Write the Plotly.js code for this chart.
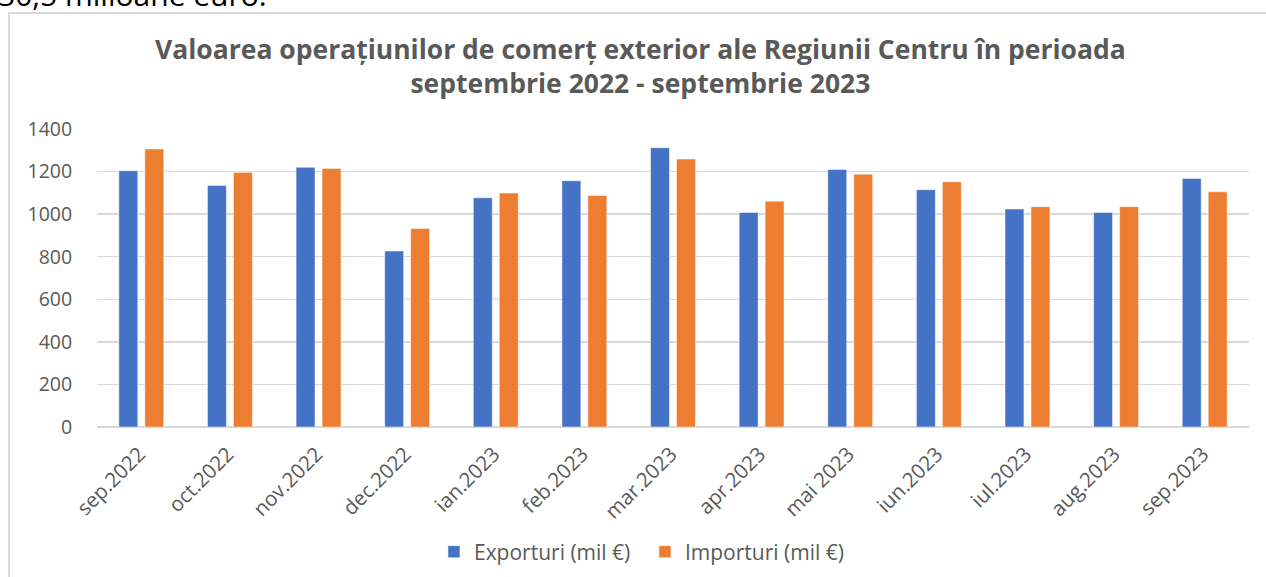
<!DOCTYPE html>
<html>
<head>
<meta charset="utf-8">
<script src="https://cdn.plot.ly/plotly-3.0.1.min.js"></script>
<style>
  html, body { margin: 0; padding: 0; background: #ffffff; overflow: hidden; }
  #wrap { position: relative; width: 1266px; height: 577px; overflow: hidden; }
  #doctext { position: absolute; left: -2px; top: -20px; font-family: "Open Sans", sans-serif; font-size: 30px; line-height: 30px; color: #000; white-space: nowrap; }
  #frame { position: absolute; left: 8px; top: 12px; width: 1300px; height: 700px; border: 2px solid #d9d9d9; box-sizing: border-box; }
  #chart { position: absolute; left: 0; top: 0; width: 1266px; height: 577px; }
</style>
</head>
<body>
<div id="wrap">
  <div id="doctext">30,5 milioane euro.</div>
  <div id="frame"></div>
  <div id="chart"></div>
</div>
<script>
const categories = ["sep.2022", "oct.2022", "nov.2022", "dec.2022", "ian.2023", "feb.2023", "mar.2023", "apr.2023", "mai 2023", "iun.2023", "iul.2023", "aug.2023", "sep.2023"];
const exporturi = [1204, 1135, 1220, 827, 1077, 1157, 1312, 1008, 1210, 1115, 1024, 1008, 1168];
const importuri = [1306, 1196, 1215, 933, 1099, 1088, 1259, 1061, 1188, 1152, 1035, 1035, 1105];
const seriesNames = ["Exporturi (mil €)", "Importuri (mil €)"];
const yTicks = [0, 200, 400, 600, 800, 1000, 1200, 1400];
const titleText = "Valoarea operațiunilor de comerț exterior ale Regiunii Centru în perioada<br>septembrie 2022 - septembrie 2023";

const grey = "#595959";
const font = "Open Sans, Liberation Sans, sans-serif";

const traces = [
  { type: "bar", name: seriesNames[0], x: categories, y: exporturi,
    marker: { color: "#4472C4", line: { color: "rgba(255,255,255,0.5)", width: 1 } }, hoverinfo: "x+y" },
  { type: "bar", name: seriesNames[1], x: categories, y: importuri,
    marker: { color: "#ED7D31", line: { color: "rgba(255,255,255,0.5)", width: 1 } }, hoverinfo: "x+y" }
];

const layout = {
  width: 1266, height: 577, autosize: false,
  paper_bgcolor: "rgba(0,0,0,0)", plot_bgcolor: "rgba(0,0,0,0)",
  margin: { l: 97, r: 17, t: 129, b: 150, pad: 0 },
  font: { family: font, color: grey, size: 18 },
  annotations: [{
    text: "<b>" + titleText + "</b>",
    xref: "paper", yref: "paper", x: 0.4714, y: 1.2114,
    xanchor: "center", yanchor: "middle", showarrow: false,
    font: { family: font, size: 26.5, color: grey }
  }],
  barmode: "group", bargap: 0.414, bargroupgap: 0.27,
  xaxis: {
    type: "category", tickangle: -45, showgrid: false, zeroline: false, showline: false,
    ticks: "outside", ticklen: 6, tickcolor: "rgba(0,0,0,0)", ticklabelshift: -2,
    tickfont: { family: font, size: 20.5, color: grey },
    automargin: false
  },
  yaxis: {
    range: [0, 1400], tickvals: yTicks, ticktext: yTicks.map(String),
    showgrid: true, gridcolor: "#d9d9d9", gridwidth: 1.5,
    zeroline: true, zerolinecolor: "#d9d9d9", zerolinewidth: 1.5,
    showline: false, ticks: "outside", ticklen: 20, tickcolor: "rgba(0,0,0,0)",
    tickfont: { family: font, size: 19.5, color: grey },
    automargin: false
  },
  showlegend: true,
  legend: {
    orientation: "h", xref: "paper", x: 0.2925, xanchor: "left",
    yref: "container", y: 0.0433, yanchor: "middle",
    font: { family: font, size: 21, color: grey }, bgcolor: "rgba(0,0,0,0)",
    itemwidth: 30, tracegroupgap: 0, entrywidth: 166, entrywidthmode: "pixels"
  }
};

Plotly.newPlot("chart", traces, layout, { displayModeBar: false, staticPlot: true });
</script>
</body>
</html>
